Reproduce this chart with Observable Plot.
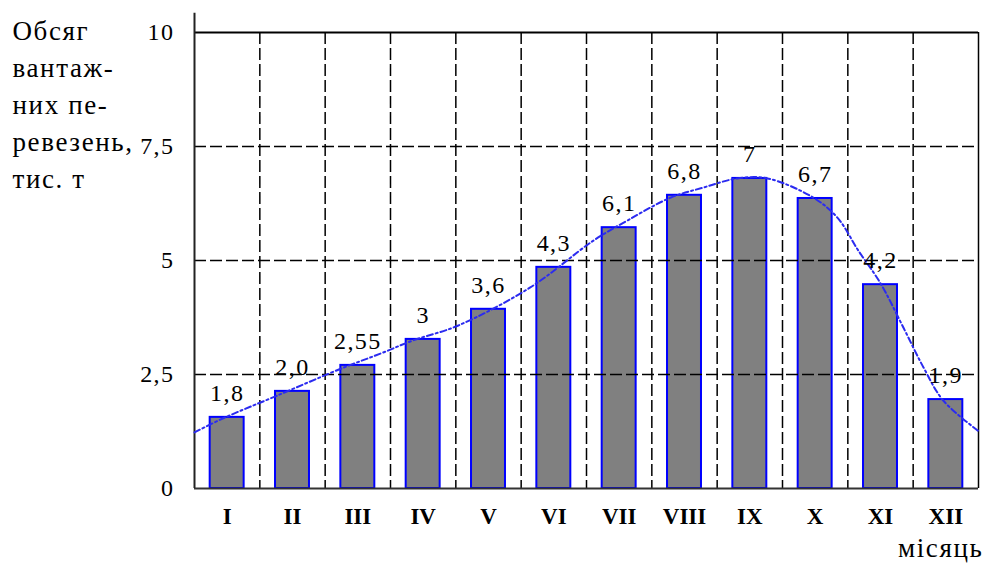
<!DOCTYPE html>
<html>
<head>
<meta charset="utf-8">
<script src="https://cdn.jsdelivr.net/npm/d3@7"></script>
<script src="https://cdn.jsdelivr.net/npm/@observablehq/plot@0.6"></script>
<style>
  html, body { margin: 0; padding: 0; background: #fff; }
  #chart svg { display: block; }
  #chart svg text { letter-spacing: 0.06em; }
  #chart svg g[font-weight="bold"] text { letter-spacing: 0; }
</style>
</head>
<body>
<div id="chart"></div>
<script>
// Months (Roman numerals)
const months = ["I","II","III","IV","V","VI","VII","VIII","IX","X","XI","XII"];
// Bar heights as drawn (thousand t)
const heights = [1.56, 2.13, 2.70, 3.27, 3.93, 4.85, 5.72, 6.43, 6.80, 6.36, 4.47, 1.95];
// Value labels printed above the bars
const labels = ["1,8","2,0","2,55","3","3,6","4,3","6,1","6,8","7","6,7","4,2","1,9"];
// Trend curve (x in month units, y in thousand t)
const trendX = [0.50, 0.94, 1.77, 2.78, 3.35, 3.85, 4.53, 5.64, 6.61, 7.13, 7.79, 8.29, 8.81, 9.27, 9.97, 10.34, 10.66, 11.00, 11.35, 11.66, 11.96, 12.49];
const trendY = [1.23, 1.54, 2.04, 2.65, 2.96, 3.25, 3.57, 4.41, 5.44, 5.88, 6.38, 6.60, 6.80, 6.80, 6.38, 5.94, 5.22, 4.50, 3.53, 2.65, 1.93, 1.27];
// Y axis ticks
const yTicks = [0, 2.5, 5, 7.5, 10];
const gridY = [2.5, 5, 7.5];
const yTitle = "Обсяг\nвантаж-\nних пе-\nревезень,\nтис. т";
const xTitle = "місяць";

const serif = "Liberation Serif";
const data = months.map((m, i) => ({m: i + 1, name: m, h: heights[i], label: labels[i]}));
const trend = trendX.map((x, i) => ({x, y: trendY[i]}));
const bounds = months.slice(1).map((_, i) => i + 1.5);
const half = 0.26;
const fmt = d => String(d).replace(".", ",");

const chart = Plot.plot({
  width: 985,
  height: 567,
  marginLeft: 194,
  marginRight: 7,
  marginTop: 32,
  marginBottom: 79,
  style: {fontFamily: serif, background: "#fff", color: "#000"},
  x: {domain: [0.5, 12.5], axis: null},
  y: {domain: [0, 10], axis: null},
  marks: [
    Plot.ruleX(bounds, {stroke: "#000", strokeWidth: 1.5, strokeDasharray: "12,4"}),
    Plot.ruleX([12.5], {stroke: "#000", strokeWidth: 1.5}),
    Plot.rectY(data, {x1: d => d.m - half, x2: d => d.m + half, y: "h", fill: "#808080", stroke: "#0000ff", strokeWidth: 2}),
    Plot.ruleY(gridY, {stroke: "#000", strokeWidth: 1.5, strokeDasharray: "12,4"}),
    Plot.ruleY([10], {stroke: "#000", strokeWidth: 2}),
    Plot.ruleY([0], {stroke: "#333", strokeWidth: 2}),
    Plot.ruleX([0.5], {y1: 0, y2: 10.42, stroke: "#222", strokeWidth: 2}),
    Plot.line(trend, {x: "x", y: "y", curve: "catmull-rom", stroke: "#2b2bf0", strokeWidth: 2, strokeDasharray: "6,3,2,3"}),
    Plot.text(data, {x: "m", y: "h", text: "label", dy: -24, fontSize: 24, fontFamily: serif, fill: "#000"}),
    Plot.text(yTicks, {frameAnchor: "left", y: d => d, text: fmt, textAnchor: "end", dx: -20, fontSize: 24, fontFamily: serif, fill: "#000"}),
    Plot.text(data, {x: "m", frameAnchor: "bottom", text: "name", dy: 35, fontSize: 23, fontWeight: "bold", fontFamily: serif, fill: "#000"}),
    Plot.text([yTitle], {frameAnchor: "top-left", dx: -182, dy: -19, textAnchor: "start", lineAnchor: "top", lineHeight: 37 / 27, fontSize: 27, fontFamily: serif, fill: "#000"}),
    Plot.text([xTitle], {frameAnchor: "bottom-right", dx: 5, dy: 68, textAnchor: "end", fontSize: 27, fontFamily: serif, fill: "#000"})
  ]
});
document.getElementById("chart").append(chart);
</script>
</body>
</html>
